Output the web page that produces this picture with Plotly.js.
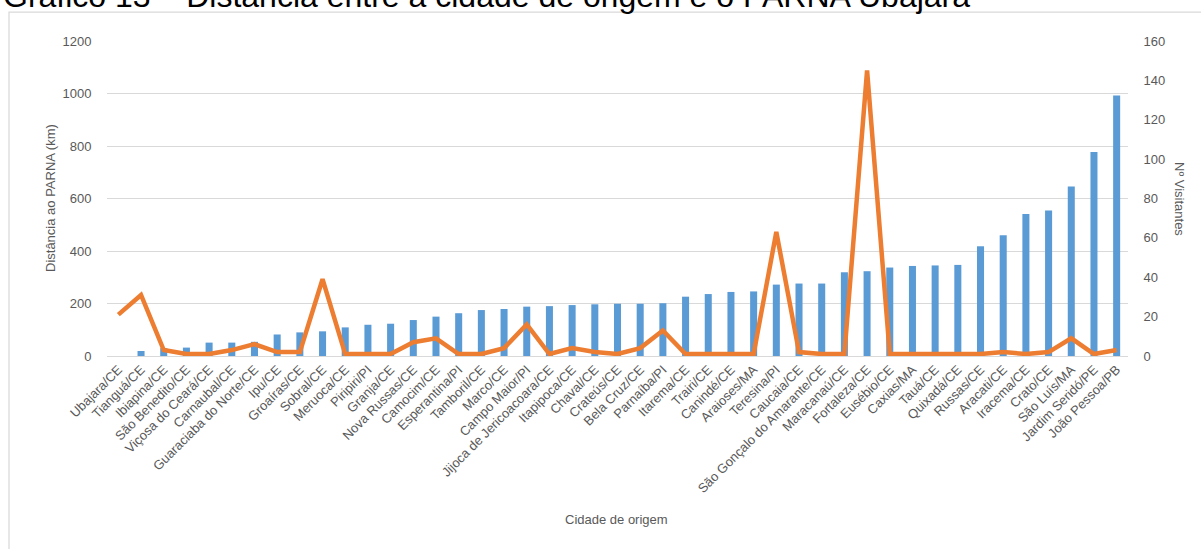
<!DOCTYPE html>
<html>
<head>
<meta charset="utf-8">
<script src="https://cdn.plot.ly/plotly-3.0.1.min.js"></script>
<style>
html,body{margin:0;padding:0;background:#fff;}
#chart{width:1201px;height:549px;}
</style>
</head>
<body>
<div id="chart"></div>
<script>
var cidades = ["Ubajara/CE","Tianguá/CE","Ibiapina/CE","São Benedito/CE","Viçosa do Ceará/CE","Carnaubal/CE","Guaraciaba do Norte/CE","Ipu/CE","Groaíras/CE","Sobral/CE","Meruoca/CE","Piripiri/PI","Granja/CE","Nova Russas/CE","Camocim/CE","Esperantina/PI","Tamboril/CE","Marco/CE","Campo Maior/PI","Jijoca de Jericoacoara/CE","Itapipoca/CE","Chaval/CE","Crateús/CE","Bela Cruz/CE","Parnaíba/PI","Itarema/CE","Trairi/CE","Canindé/CE","Araioses/MA","Teresina/PI","Caucaia/CE","São Gonçalo do Amarante/CE","Maracanaú/CE","Fortaleza/CE","Eusébio/CE","Caxias/MA","Tauá/CE","Quixadá/CE","Russas/CE","Aracati/CE","Iracema/CE","Crato/CE","São Luís/MA","Jardim Seridó/PE","João Pessoa/PB"];

var distanciaKm = [0,19,30,32,51,51,54,82,90,94,109,119,123,137,150,163,175,179,188,190,194,197,199,199,201,226,236,244,246,272,276,276,319,323,337,343,345,347,418,460,541,554,646,777,992];

var visitantes = [21,31,3,1,1,3,6,2,2,39,1,1,1,7,9,1,1,4,16,1,4,2,1,4,13,1,1,1,1,63,2,1,1,145,1,1,1,1,1,2,1,2,9,1,3];

var tituloGrafico = "Gráfico 13 – Distância entre a cidade de origem e o PARNA Ubajara";
var tituloY1 = "Distância ao PARNA (km)";
var tituloY2 = "Nº Visitantes";
var tituloX = "Cidade de origem";

var L = 107, R = 73, T = 41, B = 193, W = 1201, H = 549;
var pw = W - L - R, ph = H - T - B;
function px(x){ return (x - L) / pw; }
function py(y){ return (H - B - y) / ph; }

var font = "Liberation Sans, Arial, sans-serif";
var gray = "#595959";

var traces = [
  {
    type: "bar",
    x: cidades,
    y: distanciaKm,
    name: "Distância",
    marker: {color: "#5b9bd5"},
    yaxis: "y",
    hoverinfo: "x+y"
  },
  {
    type: "scatter",
    mode: "lines",
    x: cidades,
    y: visitantes,
    name: "Visitantes",
    line: {color: "#ed7d31", width: 4.5},
    yaxis: "y2",
    cliponaxis: false
  }
];

var layout = {
  width: W, height: H,
  margin: {l: L, r: R, t: T, b: B, pad: 0},
  paper_bgcolor: "#fff",
  plot_bgcolor: "#fff",
  showlegend: false,
  bargap: 0.69,
  font: {family: font, size: 13, color: gray},
  xaxis: {
    type: "category",
    tickangle: -45,
    tickfont: {family: font, size: 13, color: gray},
    showgrid: false,
    showline: true,
    linecolor: "#d9d9d9",
    linewidth: 1,
    ticks: "",
    zeroline: false,
    automargin: false,
    range: [-0.5, cidades.length - 0.5]
  },
  yaxis: {
    range: [0, 1200],
    dtick: 200,
    showgrid: true,
    gridcolor: "#d9d9d9",
    gridwidth: 1,
    zeroline: false,
    showline: false,
    ticks: "outside",
    ticklen: 12,
    tickcolor: "rgba(0,0,0,0)",
    tickfont: {family: font, size: 13, color: gray},
    automargin: false
  },
  yaxis2: {
    range: [0, 160],
    dtick: 20,
    overlaying: "y",
    side: "right",
    showgrid: false,
    zeroline: false,
    showline: false,
    ticks: "outside",
    ticklen: 12,
    tickcolor: "rgba(0,0,0,0)",
    tickfont: {family: font, size: 13, color: gray},
    automargin: false
  },
  shapes: [
    {type: "rect", xref: "paper", yref: "paper",
     x0: px(9), x1: px(1215), y0: py(560), y1: py(12),
     line: {color: "#d9d9d9", width: 1.25}, fillcolor: "rgba(0,0,0,0)", layer: "below"}
  ],
  annotations: [
    {text: tituloGrafico, xref: "paper", yref: "paper", x: px(1), y: py(-4),
     xanchor: "left", yanchor: "middle", showarrow: false,
     font: {family: font, size: 32, color: "#000"}},
    {text: tituloY1, xref: "paper", yref: "paper", x: px(50), y: py(198),
     xanchor: "center", yanchor: "middle", textangle: -90, showarrow: false,
     font: {family: font, size: 13, color: gray}},
    {text: tituloY2, xref: "paper", yref: "paper", x: px(1180), y: py(199),
     xanchor: "center", yanchor: "middle", textangle: 90, showarrow: false,
     font: {family: font, size: 13, color: gray}},
    {text: tituloX, xref: "paper", yref: "paper", x: px(616), y: py(519),
     xanchor: "center", yanchor: "middle", showarrow: false,
     font: {family: font, size: 13, color: gray}}
  ]
};

Plotly.newPlot("chart", traces, layout, {displayModeBar: false, staticPlot: true});
</script>
</body>
</html>
